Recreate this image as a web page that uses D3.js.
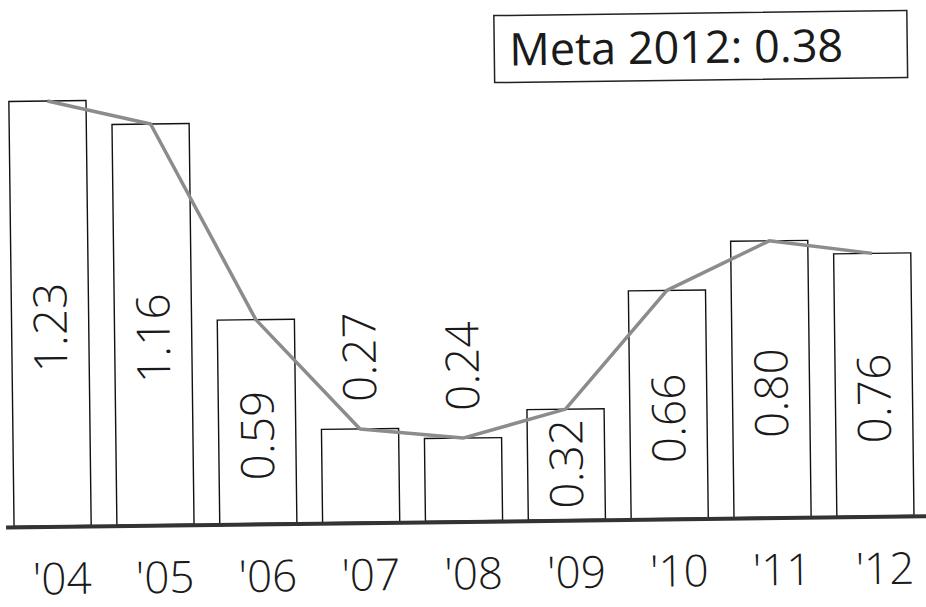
<!DOCTYPE html>
<html>
<head>
<meta charset="utf-8">
<script src="https://cdn.jsdelivr.net/npm/d3@7"></script>
<style>
  body { margin: 0; background: #fff; }
  text { font-family: "Open Sans", "DejaVu Sans", sans-serif; fill: #1a1a1a; }
</style>
</head>
<body>
<div id="chart"></div>
<script>
// values
const years = ["'04", "'05", "'06", "'07", "'08", "'09", "'10", "'11", "'12"];
const values = [1.23, 1.16, 0.59, 0.27, 0.24, 0.32, 0.66, 0.80, 0.76];
const goalLabel = "Meta 2012: 0.38";

const width = 926, height = 607;
const baseY = 521;

const svg = d3.select('#chart')
    .append('svg')
    .attr('width', width)
    .attr('height', height);

// the scan is slightly tilted, so everything sits in one rotated group
const g = svg.append('g')
    .attr('transform', 'rotate(-0.7, 463, 520)');

const x = d3.scaleBand()
    .domain(years)
    .range([14, 914])
    .paddingInner(0.25)
    .paddingOuter(0);

const y = d3.scaleLinear()
    .domain([0, 1.23])
    .range([baseY, 96]);

const data = years.map((yr, i) => ({ year: yr, value: values[i] }));

// bars
g.append('g')
    .selectAll('rect')
    .data(data)
    .enter()
    .append('rect')
    .attr('x', d => x(d.year))
    .attr('y', d => y(d.value))
    .attr('width', x.bandwidth())
    .attr('height', d => y(0) - y(d.value))
    .attr('fill', '#fff')
    .attr('stroke', '#111')
    .attr('stroke-width', 1.4);

// trend line through bar tops
const line = d3.line()
    .x(d => x(d.year) + x.bandwidth() / 2)
    .y(d => y(d.value));

g.append('path')
    .datum(data)
    .attr('d', line)
    .attr('fill', 'none')
    .attr('stroke', '#8c8c8c')
    .attr('stroke-width', 3.5)
    .attr('stroke-linejoin', 'round');

// baseline
g.append('line')
    .attr('x1', 6)
    .attr('x2', 926)
    .attr('y1', y(0) + 1)
    .attr('y2', y(0) + 1)
    .attr('stroke', '#333')
    .attr('stroke-width', 4);

// vertical value labels: inside tall bars, above short ones
g.append('g')
    .selectAll('text')
    .data(data)
    .enter()
    .append('text')
    .attr('transform', d => {
        const cx = x(d.year) + x.bandwidth() / 2;
        const h = y(0) - y(d.value);
        const cy = h < 100
            ? y(d.value) - 27
            : Math.min((y(d.value) + y(0)) / 2 + 14, y(0) - 56);
        return `translate(${cx},${cy}) rotate(-90)`;
    })
    .attr('text-anchor', d => (y(0) - y(d.value)) < 100 ? 'start' : 'middle')
    .attr('dy', '0.36em')
    .attr('font-size', 46)
    .attr('font-weight', 300)
    .text(d => d.value.toFixed(2));

// x axis labels
const xAxis = d3.axisBottom(x).tickSize(0).tickPadding(0);
const axisG = g.append('g')
    .attr('transform', `translate(9, ${y(0) + 37})`)
    .call(xAxis);
axisG.select('.domain').remove();
axisG.selectAll('text')
    .attr('font-size', 44)
    .attr('font-weight', 300)
    .attr('fill', '#1a1a1a')
    .style('font-family', '"Open Sans", "DejaVu Sans", sans-serif');

// goal box
const box = g.append('g');
box.append('rect')
    .attr('x', 500)
    .attr('y', 16)
    .attr('width', 413)
    .attr('height', 67)
    .attr('fill', '#fff')
    .attr('stroke', '#222')
    .attr('stroke-width', 1.5);
box.append('text')
    .attr('x', 515)
    .attr('y', 66)
    .attr('font-size', 45)
    .text(goalLabel);
</script>
</body>
</html>
